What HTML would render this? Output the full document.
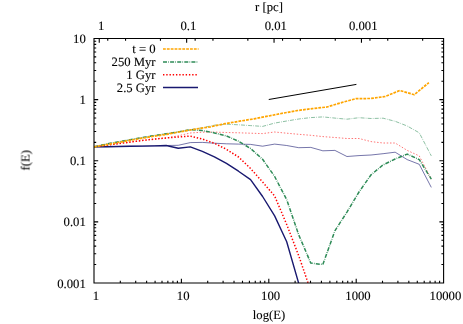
<!DOCTYPE html>
<html><head><meta charset="utf-8"><title>f(E)</title>
<style>html,body{margin:0;padding:0;background:#fff;}svg{display:block;}text{font-family:"Liberation Serif",serif;font-size:12.7px;fill:#000;stroke:#000;stroke-width:0.12px;text-rendering:geometricPrecision;}</style>
</head><body>
<svg width="463" height="324" viewBox="0 0 463 324">
<rect x="0" y="0" width="463" height="324" fill="#fff"/>
<defs><clipPath id="c"><rect x="94.0" y="38.5" width="349.6" height="244.45"/></clipPath></defs>
<g clip-path="url(#c)" fill="none" stroke-linejoin="round">
<polyline points="93.90,146.90 105.95,144.17 118.00,141.95 130.05,139.76 142.10,137.64 154.15,135.61 166.20,133.79 178.25,131.88 190.30,129.70 202.35,127.73 214.40,125.20 226.45,124.20 238.50,124.80 250.55,125.60 262.60,126.40 274.65,123.10 286.70,121.00 298.75,119.00 310.80,117.60 322.85,116.90 334.90,118.10 346.95,119.20 359.00,117.70 371.05,118.50 383.10,118.20 395.15,121.30 407.20,126.00 419.25,132.80 431.30,155.90" stroke="#2e8b57" stroke-width="0.55" stroke-dasharray="4 1.2 0.7 1.2"/>
<polyline points="93.90,146.90 105.95,145.30 118.00,143.70 130.05,142.10 142.10,140.50 154.15,139.10 166.20,137.90 178.25,135.80 190.30,133.00 202.35,132.20 214.40,132.10 226.45,132.50 238.50,132.80 250.55,133.20 262.60,133.60 274.65,132.00 286.70,133.20 298.75,134.30 310.80,135.30 322.85,136.60 334.90,137.50 346.95,138.50 359.00,138.50 371.05,141.60 383.10,143.00 395.15,143.00 407.20,150.40 419.25,155.90 431.30,179.10" stroke="#ff0000" stroke-width="0.55" stroke-dasharray="1.5 1.74"/>
<polyline points="93.90,146.90 105.95,146.70 118.00,146.50 130.05,146.30 142.10,146.10 154.15,145.90 166.20,145.50 178.25,145.30 190.30,142.60 202.35,142.40 214.40,143.20 226.45,143.80 238.50,144.10 250.55,144.40 262.60,146.20 274.65,144.10 286.70,145.50 298.75,147.70 310.80,147.40 322.85,150.80 334.90,150.40 346.95,156.50 359.00,155.60 371.05,155.00 383.10,153.70 395.15,152.20 407.20,159.60 419.25,164.30 431.30,187.40" stroke="#191970" stroke-width="0.6"/>
<polyline points="93.90,146.90 105.95,146.70 118.00,146.50 130.05,146.30 142.10,146.10 154.15,145.90 166.20,145.50 178.25,148.20 190.30,146.90 202.35,151.30 214.40,156.90 226.45,163.40 238.50,171.20 250.55,179.60 262.60,196.50 274.65,215.90 286.70,241.80 298.75,283.50" stroke="#191970" stroke-width="1.4"/>
<polyline points="93.90,146.90 105.95,145.30 118.00,143.70 130.05,142.10 142.10,140.50 154.15,139.10 166.20,138.00 178.25,137.00 190.30,136.10 202.35,139.00 214.40,143.30 226.45,149.30 238.50,157.00 250.55,168.50 262.60,182.00 274.65,196.00 286.70,224.50 298.75,255.80 310.80,291.00" stroke="#ff0000" stroke-width="1.5" stroke-dasharray="1.4 1.84"/>
<polyline points="93.90,146.90 105.95,144.17 118.00,141.95 130.05,139.76 142.10,137.64 154.15,135.61 166.20,133.79 178.25,131.88 190.30,129.70 202.35,130.60 214.40,132.90 226.45,135.90 238.50,141.20 250.55,148.50 262.60,159.30 274.65,176.50 286.70,199.60 298.75,234.90 310.80,263.10 322.85,264.50 334.90,230.80 346.95,212.10 359.00,192.00 371.05,174.80 383.10,164.90 395.15,159.00 407.20,154.10 419.25,159.60 431.30,179.10" stroke="#2e8b57" stroke-width="1.5" stroke-dasharray="4 1.2 0.7 1.2"/>
<polyline points="94.00,146.90 108.56,144.30 123.12,141.60 137.68,139.00 152.24,136.50 166.80,134.30 181.36,131.60 195.92,129.00 210.48,126.80 225.04,123.70 239.60,121.20 254.16,118.80 268.72,116.00 283.28,113.10 297.84,110.50 312.40,108.60 326.96,107.00 341.52,102.60 356.08,98.60 370.64,98.50 385.20,96.50 399.76,90.50 414.32,94.70 428.88,82.60" stroke="#ffa500" stroke-width="1.7" stroke-dasharray="2.8 1.06"/>
<line x1="268.75" y1="99.5" x2="356.4" y2="84.4" stroke="#000" stroke-width="1"/>
</g>
<g fill="none">
<line x1="163" y1="49" x2="198.6" y2="49" stroke="#ffa500" stroke-width="1.7" stroke-dasharray="2.8 1.06"/>
<line x1="163" y1="61.9" x2="198" y2="61.9" stroke="#2e8b57" stroke-width="1.5" stroke-dasharray="4 1.2 0.7 1.2"/>
<line x1="163" y1="74.8" x2="198" y2="74.8" stroke="#ff0000" stroke-width="1.5" stroke-dasharray="1.4 1.84"/>
<line x1="163" y1="87.5" x2="198" y2="87.5" stroke="#191970" stroke-width="1.4"/>
</g>
<path d="M94.0,38.5H443.6V282.95H94.0ZM94.00,282.95v-4.2M120.31,282.95v-2.2M135.70,282.95v-2.2M146.62,282.95v-2.2M155.09,282.95v-2.2M162.01,282.95v-2.2M167.86,282.95v-2.2M172.93,282.95v-2.2M177.40,282.95v-2.2M181.40,282.95v-4.2M207.71,282.95v-2.2M223.10,282.95v-2.2M234.02,282.95v-2.2M242.49,282.95v-2.2M249.41,282.95v-2.2M255.26,282.95v-2.2M260.33,282.95v-2.2M264.80,282.95v-2.2M268.80,282.95v-4.2M295.11,282.95v-2.2M310.50,282.95v-2.2M321.42,282.95v-2.2M329.89,282.95v-2.2M336.81,282.95v-2.2M342.66,282.95v-2.2M347.73,282.95v-2.2M352.20,282.95v-2.2M356.20,282.95v-4.2M382.51,282.95v-2.2M397.90,282.95v-2.2M408.82,282.95v-2.2M417.29,282.95v-2.2M424.21,282.95v-2.2M430.06,282.95v-2.2M435.13,282.95v-2.2M439.60,282.95v-2.2M443.60,282.95v-4.2M94.0,38.50h4.2M443.6,38.50h-4.2M94.0,81.22h2.2M443.6,81.22h-2.2M94.0,70.45h2.2M443.6,70.45h-2.2M94.0,62.82h2.2M443.6,62.82h-2.2M94.0,56.90h2.2M443.6,56.90h-2.2M94.0,52.06h2.2M443.6,52.06h-2.2M94.0,47.97h2.2M443.6,47.97h-2.2M94.0,44.42h2.2M443.6,44.42h-2.2M94.0,41.30h2.2M443.6,41.30h-2.2M94.0,99.61h4.2M443.6,99.61h-4.2M94.0,142.33h2.2M443.6,142.33h-2.2M94.0,131.57h2.2M443.6,131.57h-2.2M94.0,123.93h2.2M443.6,123.93h-2.2M94.0,118.01h2.2M443.6,118.01h-2.2M94.0,113.17h2.2M443.6,113.17h-2.2M94.0,109.08h2.2M443.6,109.08h-2.2M94.0,105.53h2.2M443.6,105.53h-2.2M94.0,102.41h2.2M443.6,102.41h-2.2M94.0,160.72h4.2M443.6,160.72h-4.2M94.0,203.44h2.2M443.6,203.44h-2.2M94.0,192.68h2.2M443.6,192.68h-2.2M94.0,185.04h2.2M443.6,185.04h-2.2M94.0,179.12h2.2M443.6,179.12h-2.2M94.0,174.28h2.2M443.6,174.28h-2.2M94.0,170.19h2.2M443.6,170.19h-2.2M94.0,166.65h2.2M443.6,166.65h-2.2M94.0,163.52h2.2M443.6,163.52h-2.2M94.0,221.84h4.2M443.6,221.84h-4.2M94.0,264.55h2.2M443.6,264.55h-2.2M94.0,253.79h2.2M443.6,253.79h-2.2M94.0,246.16h2.2M443.6,246.16h-2.2M94.0,240.23h2.2M443.6,240.23h-2.2M94.0,235.40h2.2M443.6,235.40h-2.2M94.0,231.30h2.2M443.6,231.30h-2.2M94.0,227.76h2.2M443.6,227.76h-2.2M94.0,224.63h2.2M443.6,224.63h-2.2M94.0,282.95h4.2M443.6,282.95h-4.2M99.25,38.5v4.2M107.75,38.5v2.2M125.55,38.5v2.2M160.45,38.5v2.2M186.65,38.5v4.2M195.15,38.5v2.2M212.95,38.5v2.2M247.85,38.5v2.2M274.05,38.5v4.2M282.55,38.5v2.2M300.35,38.5v2.2M335.25,38.5v2.2M361.45,38.5v4.2M369.95,38.5v2.2M387.75,38.5v2.2M422.65,38.5v2.2" fill="none" stroke="#000" stroke-width="1.1"/>
<g opacity="0.999">
<text x="95.80" y="299.5" text-anchor="middle">1</text>
<text x="183.20" y="299.5" text-anchor="middle">10</text>
<text x="270.60" y="299.5" text-anchor="middle">100</text>
<text x="358.00" y="299.5" text-anchor="middle">1000</text>
<text x="445.40" y="299.5" text-anchor="middle">10000</text>
<text x="101.05" y="29.6" text-anchor="middle">1</text>
<text x="188.45" y="29.6" text-anchor="middle">0.1</text>
<text x="275.85" y="29.6" text-anchor="middle">0.01</text>
<text x="363.25" y="29.6" text-anchor="middle">0.001</text>
<text x="85.8" y="43.10" text-anchor="end">10</text>
<text x="85.8" y="104.21" text-anchor="end">1</text>
<text x="85.8" y="165.32" text-anchor="end">0.1</text>
<text x="85.8" y="226.44" text-anchor="end">0.01</text>
<text x="85.8" y="287.55" text-anchor="end">0.001</text>
<text x="269" y="11" text-anchor="middle">r [pc]</text>
<text x="269" y="319.2" text-anchor="middle">log(E)</text>
<text transform="translate(29.6,160.3) rotate(-90)" text-anchor="middle">f(E)</text>
<text x="155.6" y="53.40" text-anchor="end">t = 0</text>
<text x="155.6" y="66.15" text-anchor="end">250 Myr</text>
<text x="155.6" y="78.90" text-anchor="end">1 Gyr</text>
<text x="155.6" y="91.65" text-anchor="end">2.5 Gyr</text>
</g>
</svg>
</body></html>
